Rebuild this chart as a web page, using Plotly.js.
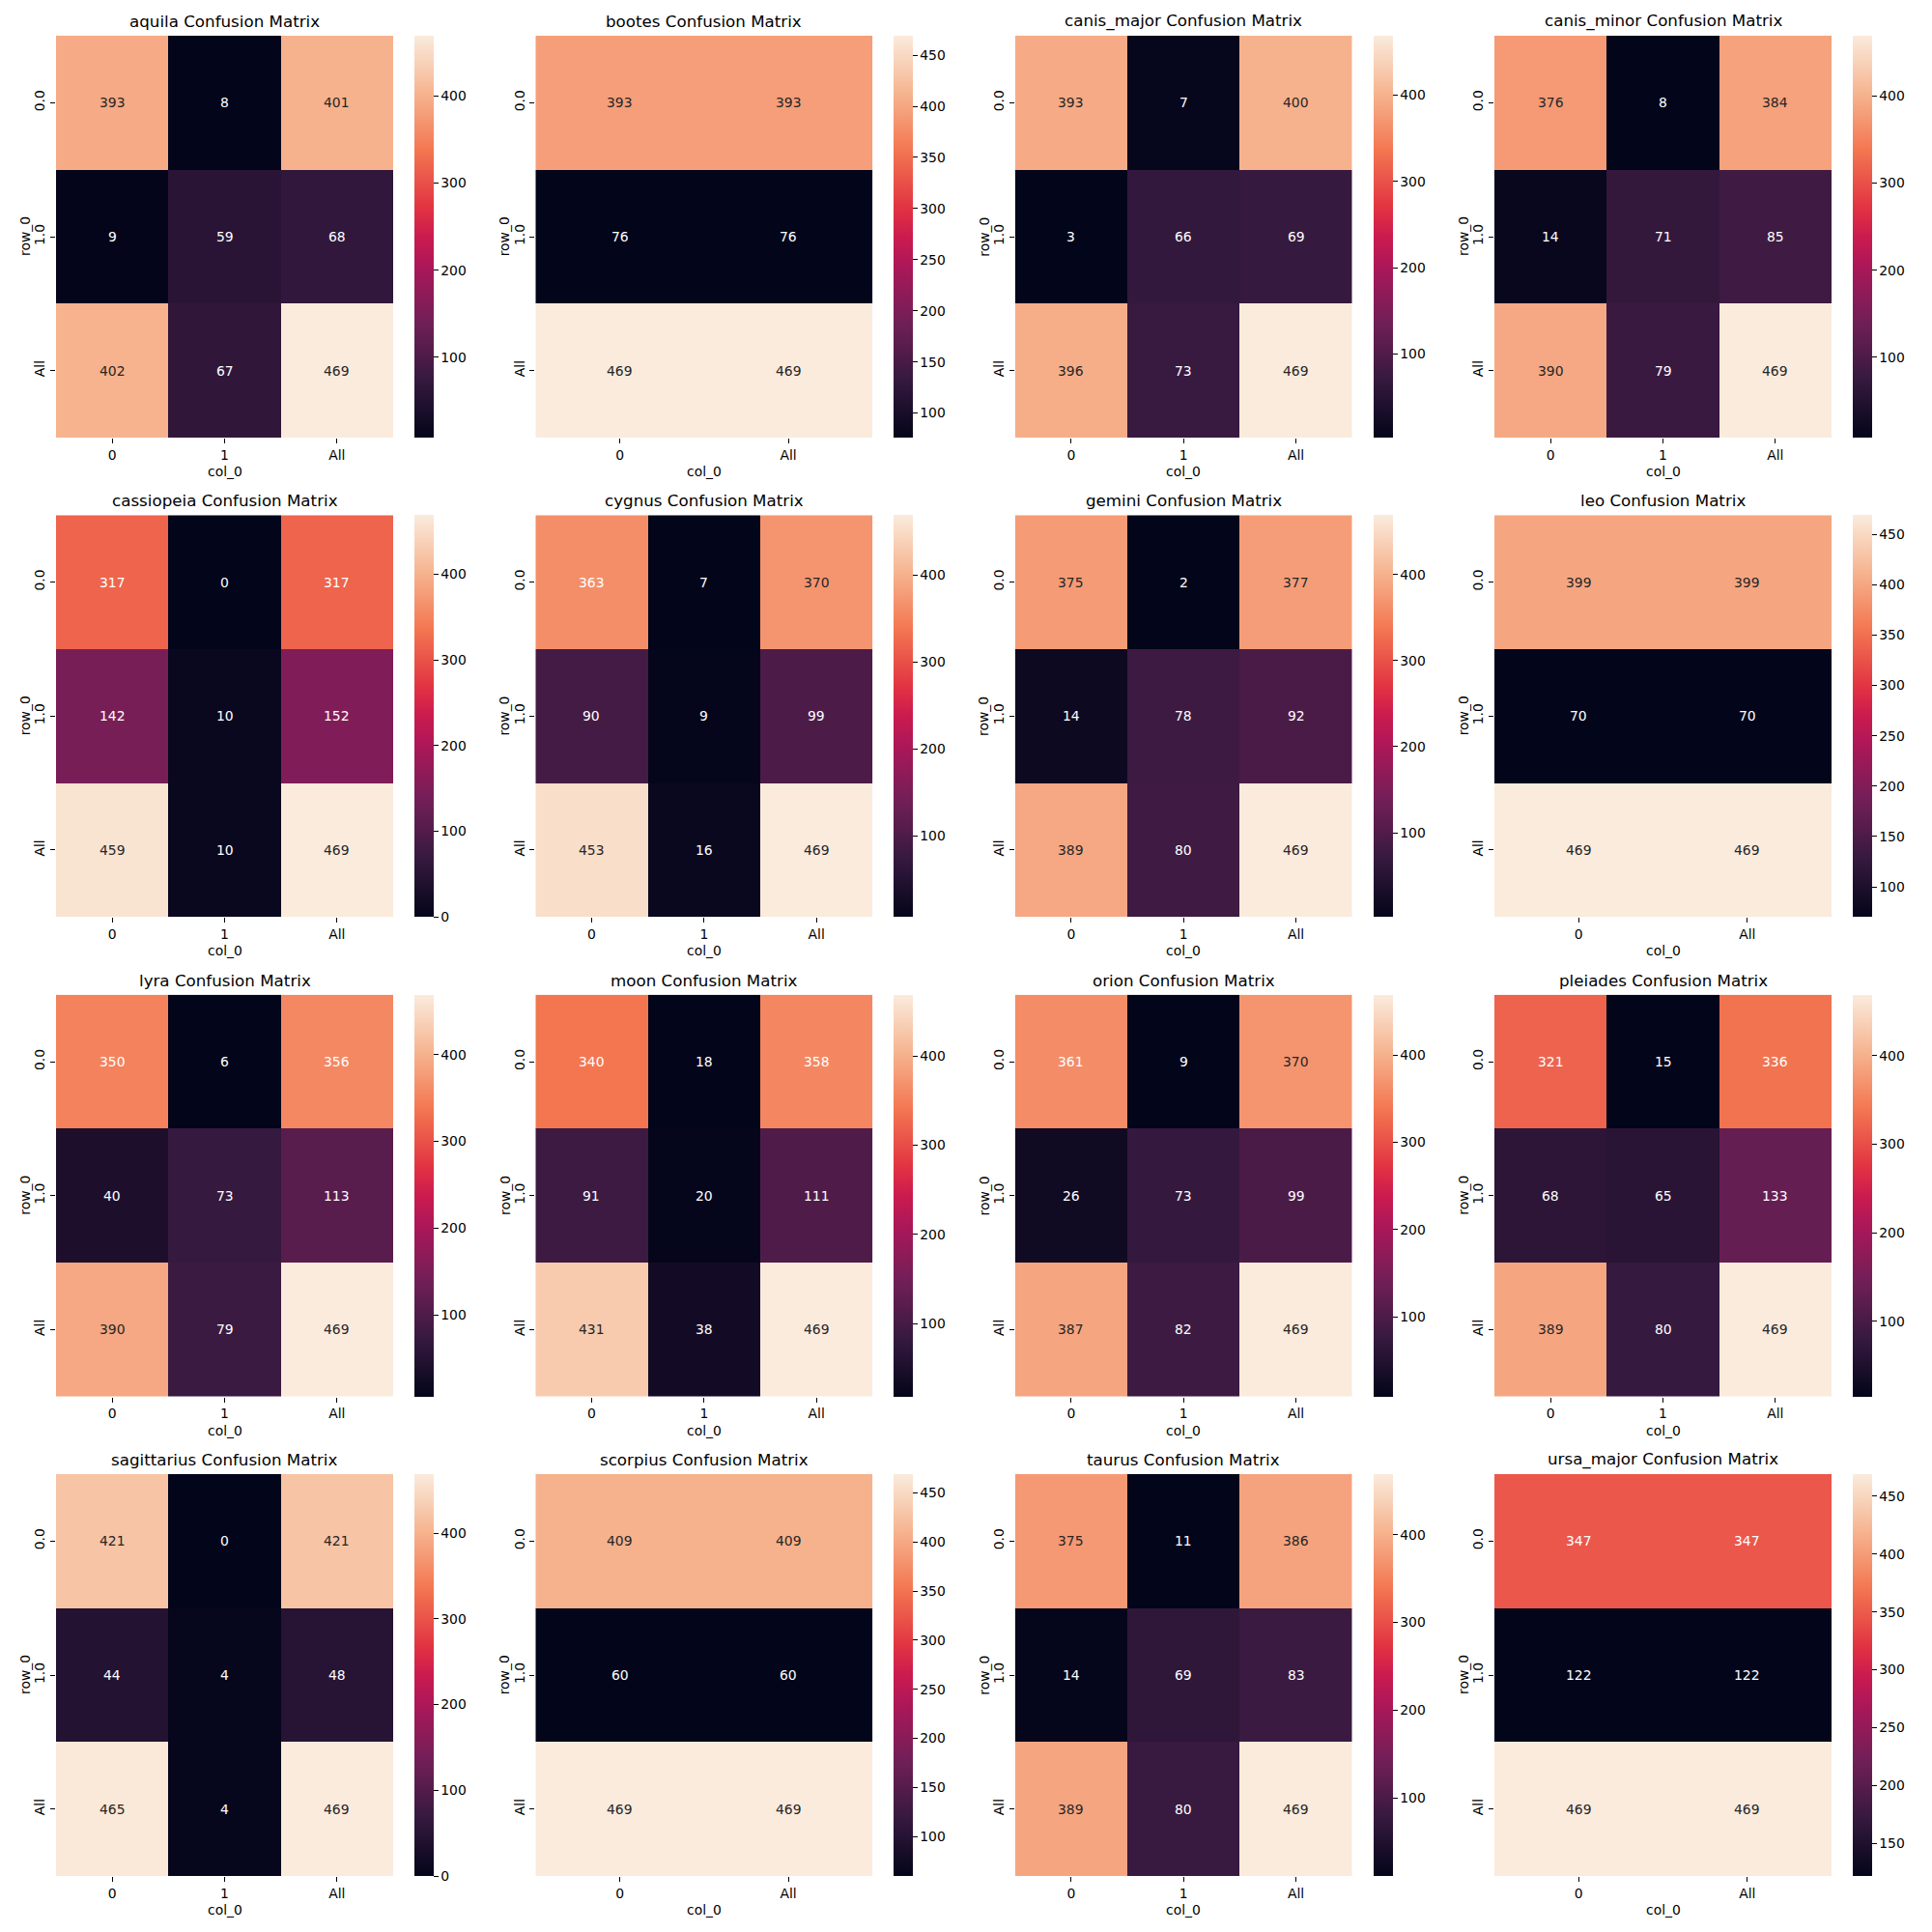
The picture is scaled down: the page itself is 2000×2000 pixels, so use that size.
<!DOCTYPE html>
<html>
<head>
<meta charset="utf-8">
<script src="https://cdn.plot.ly/plotly-3.0.1.min.js"></script>
<style>html,body{margin:0;padding:0;background:#fff;}</style>
</head>
<body>
<div id="chart" style="width:2000px;height:2000px;"></div>
<script>
// ---- data ----
const constellations = ['aquila','bootes','canis_major','canis_minor','cassiopeia','cygnus','gemini','leo',
  'lyra','moon','orion','pleiades','sagittarius','scorpius','taurus','ursa_major'];
const rowLabels = ['0.0','1.0','All'];
const colLabels3 = ['0','1','All'];
const colLabels2 = ['0','All'];

const aquila      = [[393,8,401],[9,59,68],[402,67,469]];
const bootes      = [[393,393],[76,76],[469,469]];
const canis_major = [[393,7,400],[3,66,69],[396,73,469]];
const canis_minor = [[376,8,384],[14,71,85],[390,79,469]];
const cassiopeia  = [[317,0,317],[142,10,152],[459,10,469]];
const cygnus      = [[363,7,370],[90,9,99],[453,16,469]];
const gemini      = [[375,2,377],[14,78,92],[389,80,469]];
const leo         = [[399,399],[70,70],[469,469]];
const lyra        = [[350,6,356],[40,73,113],[390,79,469]];
const moon        = [[340,18,358],[91,20,111],[431,38,469]];
const orion       = [[361,9,370],[26,73,99],[387,82,469]];
const pleiades    = [[321,15,336],[68,65,133],[389,80,469]];
const sagittarius = [[421,0,421],[44,4,48],[465,4,469]];
const scorpius    = [[409,409],[60,60],[469,469]];
const taurus      = [[375,11,386],[14,69,83],[389,80,469]];
const ursa_major  = [[347,347],[122,122],[469,469]];

const matrices = [aquila,bootes,canis_major,canis_minor,cassiopeia,cygnus,gemini,leo,
  lyra,moon,orion,pleiades,sagittarius,scorpius,taurus,ursa_major];
const cbarDtick = [100,50,100,100, 100,100,100,50, 100,100,100,100, 100,50,100,50];

// ---- style ----
const rocketStops = [
  [0.0,   [3,5,26]],
  [0.1429,[53,25,62]],
  [0.2857,[112,31,87]],
  [0.4286,[173,23,89]],
  [0.5,   [203,27,79]],
  [0.5714,[225,51,66]],
  [0.7143,[243,118,81]],
  [0.8571,[246,180,143]],
  [1.0,   [250,235,221]]
];
const rocket = rocketStops.map(s => [s[0], 'rgb(' + s[1].join(',') + ')']);
function rocketAt(t) {
  t = Math.max(0, Math.min(1, t));
  for (let i = 1; i < rocketStops.length; i++) {
    const a = rocketStops[i-1], b = rocketStops[i];
    if (t <= b[0]) {
      const f = (t - a[0]) / (b[0] - a[0]);
      return a[1].map((v, k) => v + f * (b[1][k] - v));
    }
  }
  return rocketStops[rocketStops.length-1][1];
}
function lum(rgb) {
  const c = rgb.map(v => { v = v / 255; return v <= 0.03928 ? v / 12.92 : Math.pow((v + 0.055) / 1.055, 2.4); });
  return 0.2126 * c[0] + 0.7152 * c[1] + 0.0722 * c[2];
}

const FONT = 'DejaVu Sans, Arial, sans-serif';
const W = 2000, H = 2000;
const colLeft = [58, 554.3, 1050.7, 1547];
const rowTop = [37, 533.3, 1029.7, 1526];
const cellW = 349, cellH = 416;

const data = [];
const annotations = [];
const layout = {
  width: W, height: H,
  margin: {l:0, r:0, t:0, b:0},
  paper_bgcolor: '#ffffff', plot_bgcolor: '#ffffff',
  showlegend: false,
  font: {family: FONT, size: 13.9, color: '#000000'},
  annotations: annotations
};

matrices.forEach((m, i) => {
  const r = Math.floor(i / 4), c = i % 4;
  const L = colLeft[c], T = rowTop[r];
  const sfx = i === 0 ? '' : String(i + 1);
  const cols = m[0].length === 3 ? colLabels3 : colLabels2;
  let zmin = Infinity, zmax = -Infinity;
  m.forEach(row => row.forEach(v => { zmin = Math.min(zmin, v); zmax = Math.max(zmax, v); }));

  data.push({
    type: 'heatmap',
    x: cols, y: rowLabels, z: m,
    xaxis: 'x' + sfx, yaxis: 'y' + sfx,
    colorscale: rocket, zmin: zmin, zmax: zmax,
    xgap: 0, ygap: 0, hoverinfo: 'skip',
    showscale: true,
    colorbar: {
      x: (L + 371) / W, xanchor: 'left', xref: 'paper',
      y: 1 - (T + cellH / 2) / H, yanchor: 'middle', yref: 'paper',
      len: cellH, lenmode: 'pixels',
      thickness: 20, thicknessmode: 'pixels',
      xpad: 0, ypad: 0, outlinewidth: 0,
      ticks: 'outside', ticklen: 5, tickwidth: 1, tickcolor: '#000',
      tick0: 0, dtick: cbarDtick[i],
      tickfont: {family: FONT, size: 13.9, color: '#000'}
    }
  });

  layout['xaxis' + sfx] = {
    domain: [L / W, (L + cellW) / W], anchor: 'y' + sfx,
    type: 'category', categoryorder: 'array', categoryarray: cols,
    showgrid: false, zeroline: false, showline: false,
    ticks: 'outside', ticklen: 5, tickwidth: 1, tickcolor: '#000',
    tickfont: {family: FONT, size: 13.9, color: '#000'}, fixedrange: true
  };
  layout['yaxis' + sfx] = {
    domain: [1 - (T + cellH) / H, 1 - T / H], anchor: 'x' + sfx,
    type: 'category', categoryorder: 'array', categoryarray: rowLabels,
    autorange: 'reversed',
    showgrid: false, zeroline: false, showline: false,
    ticks: 'outside', ticklen: 5, tickwidth: 1, tickcolor: '#000', tickangle: -90,
    tickfont: {family: FONT, size: 13.9, color: '#000'}, fixedrange: true
  };

  // cell values
  m.forEach((row, ri) => row.forEach((v, ci) => {
    const t = zmax > zmin ? (v - zmin) / (zmax - zmin) : 0;
    const col = lum(rocketAt(t)) > 0.408 ? '#262626' : '#ffffff';
    annotations.push({
      xref: 'x' + sfx, yref: 'y' + sfx, x: cols[ci], y: rowLabels[ri],
      text: String(v), showarrow: false,
      font: {family: FONT, size: 13.9, color: col}
    });
  }));

  // title
  annotations.push({
    xref: 'paper', yref: 'paper', x: (L + cellW / 2) / W, y: 1 - T / H,
    xanchor: 'center', yanchor: 'bottom', yshift: 3,
    text: constellations[i] + ' Confusion Matrix', showarrow: false,
    font: {family: FONT, size: 16.7, color: '#000'}
  });
  // x label
  annotations.push({
    xref: 'paper', yref: 'paper', x: (L + cellW / 2) / W, y: 1 - (T + cellH) / H,
    xanchor: 'center', yanchor: 'middle', yshift: -35,
    text: 'col_0', showarrow: false,
    font: {family: FONT, size: 13.9, color: '#000'}
  });
  // y label
  annotations.push({
    xref: 'paper', yref: 'paper', x: L / W, y: 1 - (T + cellH / 2) / H,
    xanchor: 'center', yanchor: 'middle', xshift: -32, textangle: -90,
    text: 'row_0', showarrow: false,
    font: {family: FONT, size: 13.9, color: '#000'}
  });
});

Plotly.newPlot('chart', data, layout, {displayModeBar: false, staticPlot: true});
</script>
</body>
</html>
